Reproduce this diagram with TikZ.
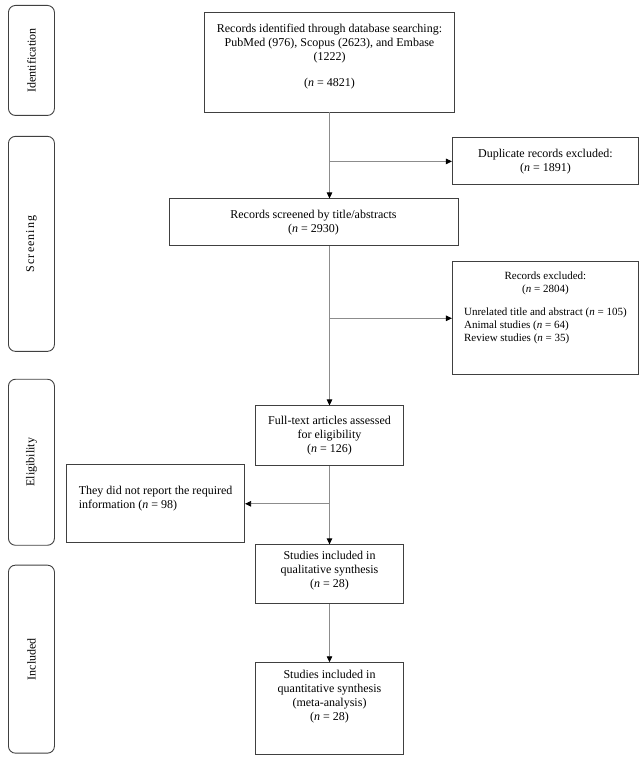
\documentclass[tikz,border=0pt]{standalone}
\usepackage{fontspec}
\setmainfont{Liberation Serif}
\usetikzlibrary{
  arrows.meta,
  positioning
}
\definecolor{boxgray}{HTML}{404040}
\definecolor{linegray}{HTML}{8C8C8C}
% The count of records, as in (n = 42).
\newcommand{\nval}[1]{(\textit{n} = #1)}
% Extra depth below the last line, to lift the text in its box.
\newcommand{\lift}[1]{\rule[-#1]{0pt}{#1}}
\tikzset{
%
  % For box borders.
  line/.style={
    line width=0.9pt},
%
  % For connectors.
  thin line/.style={
    line width=0.8pt},
%
  % For the flow 'A goes on to B'.
  leads/.style={
    thin line,
    linegray,
    -{Triangle[length=6pt,
               width=5.5pt,
               color=black]}},
%
  % For the record boxes.
  box/.style={
    line,
    draw=boxgray,
    align=center,
    inner xsep=4pt,
    inner ysep=2pt},
%
  % For the phase boxes on the left.
  phase/.style={
    line,
    draw=boxgray,
    rounded corners=7pt,
    minimum width=46pt,
    inner sep=0pt}
}

\begin{document}
\begin{tikzpicture}[font=\fontsize{12}{14}\selectfont]
  \useasboundingbox (0,0) rectangle (642pt,-757pt);

  \node[box, minimum width=250pt, minimum height=100pt] (A) at (329.5pt,-62pt)
    {Records identified through database searching:\\
     PubMed (976), Scopus (2623), and Embase\\
     (1222)\\[12pt]
     \nval{4821}\lift{13pt}};
  \node[box, minimum width=186pt, minimum height=47pt] (D)
    [below right=25pt and -3pt of A]
    {Duplicate records excluded:\\ \nval{1891}};
  \node[box, minimum width=289pt, minimum height=47pt] (B)
    [below=86pt of A, xshift=-16pt]
    {Records screened by title/abstracts\\ \nval{2930}};
  \node[box, minimum width=186pt, minimum height=113pt,
        font=\fontsize{11}{13}\selectfont] (E) [below=76pt of D]
    {Records excluded:\\ \nval{2804}\\[10pt]
     \begin{tabular}[t]{@{}l@{}}
       Unrelated title and abstract \nval{105}\\
       Animal studies \nval{64}\\
       Review studies \nval{35}
     \end{tabular}\lift{50pt}};
  \node[box, minimum width=148pt, minimum height=60pt] (F) [below=293pt of A]
    {Full-text articles assessed\\ for eligibility\\ \nval{126}};
  \node[box, align=left, minimum width=178pt, minimum height=78pt] (G)
    [below left=-2pt and 10pt of F]
    {They did not report the required\\ information \nval{98}\lift{13pt}};
  \node[box, minimum width=148pt, minimum height=59pt] (Q) [below=78pt of F]
    {Studies included in\\ qualitative synthesis\\ \nval{28}\lift{9pt}};
  \node[box, minimum width=148pt, minimum height=92pt] (M) [below=58pt of Q]
    {Studies included in\\ quantitative synthesis\\ (meta-analysis)\\
     \nval{28}\lift{27pt}};

  \node[phase, minimum height=110pt, anchor=north west] (Pid) at (8pt,-5pt)
    {\rotatebox{90}{Identification}};
  \node[phase, minimum height=215pt] (Psc) [below=20pt of Pid]
    {\rotatebox{90}{\addfontfeatures{LetterSpace=9}Screening}};
  \node[phase, minimum height=166pt] (Pel) [below=27pt of Psc]
    {\rotatebox{90}{Eligibility}};
  \node[phase, minimum height=188pt] (Pin) [below=19pt of Pel]
    {\rotatebox{90}{Included}};

  \draw[leads] (A.south) -- (A.south |- B.north);
  \draw[leads] (A.south |- D.west) -- (D.west);
  \draw[leads] (F.north |- B.south) -- (F.north);
  \draw[leads] (F.north |- E.west) -- (E.west);
  \draw[leads] (F.south) -- (Q.north);
  \draw[leads] (F.south |- G.east) -- (G.east);
  \draw[leads] (Q.south) -- (M.north);
\end{tikzpicture}
\end{document}
